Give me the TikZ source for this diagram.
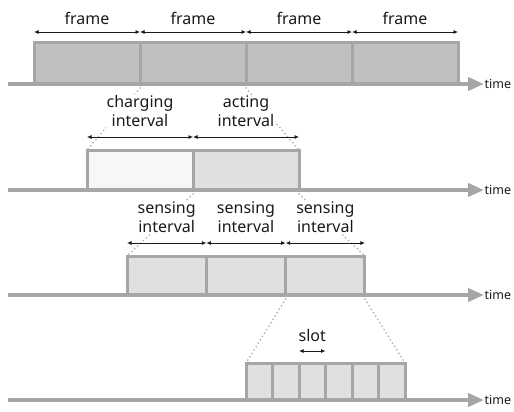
\documentclass[tikz,border=0pt]{standalone}
\usepackage{fontspec}
\setmainfont{Noto Sans}
\usetikzlibrary{arrows.meta}

\definecolor{linegray}{HTML}{A6A6A6}
\definecolor{dotgray}{HTML}{B4B4B4}
\definecolor{framefill}{HTML}{C0C0C0}
\definecolor{boxfill}{HTML}{E0E0E0}
\definecolor{palefill}{HTML}{F7F7F7}
\definecolor{ink}{HTML}{1A1A1A}

\tikzset{
  box/.style={draw=linegray, line width=3pt, fill=#1, inner sep=0pt, outer sep=0pt},
  box/.default=boxfill,
  axisline/.style={draw=linegray, line width=4pt, -{Triangle[length=16pt,width=13pt,fill=linegray]}},
  timelbl/.style={anchor=west, inner sep=0.5pt, font=\fontsize{12.5}{14}\selectfont, text=ink},
  dimline/.style={draw=ink, line width=0.8pt, {Latex[length=4.5pt,width=4pt]}-{Latex[length=4.5pt,width=4pt]}},
  lbl/.style={anchor=south, inner sep=1pt, fill=white, align=center, text=ink,
              font=\fontsize{16}{19}\selectfont},
  zoomline/.style={draw=dotgray, line width=2pt, line cap=round, dash pattern=on 0pt off 4pt},
}

\begin{document}
\begin{tikzpicture}[x=1pt, y=-1pt]
\useasboundingbox (0,0) rectangle (514,412);

% ---------- row 1: frames ----------
\foreach \i/\cx in {1/87, 2/193, 3/299, 4/405}
  \node[box=framefill, minimum width=106pt, minimum height=41pt] (f\i) at (\cx,63.5) {};
\coordinate (a1s) at (8,84);
\coordinate (a1e) at (484,84);
\draw[axisline] (a1s) -- (a1e);
\node[timelbl] (t1) at (a1e) {time};

% ---------- row 2: charging / acting ----------
\node[box=palefill, minimum width=106pt, minimum height=40pt] (c1) at (140,170) {};
\node[box=boxfill,  minimum width=106pt, minimum height=40pt] (c2) at (246,170) {};
\coordinate (a2s) at (8,190);
\coordinate (a2e) at (484,190);
\draw[axisline] (a2s) -- (a2e);
\node[timelbl] (t2) at (a2e) {time};

% ---------- row 3: sensing intervals ----------
\foreach \i/\cx in {1/166.67, 2/246, 3/325.33}
  \node[box, minimum width=79.33pt, minimum height=39pt] (g\i) at (\cx,275.5) {};
\coordinate (a3s) at (8,295);
\coordinate (a3e) at (484,295);
\draw[axisline] (a3s) -- (a3e);
\node[timelbl] (t3) at (a3e) {time};

% ---------- row 4: slots ----------
\foreach \i in {1,...,6}
  \node[box, minimum width=26.5pt, minimum height=37pt] (s\i) at ({246+13.25+26.5*(\i-1)},381.5) {};
\coordinate (a4s) at (8,400);
\coordinate (a4e) at (484,400);
\draw[axisline] (a4s) -- (a4e);
\node[timelbl] (t4) at (a4e) {time};

% ---------- dotted zoom lines ----------
\draw[zoomline] ([yshift=-4pt]f1.south east) -- (c1.north west);
\draw[zoomline] ([yshift=-4pt]f2.south east) -- (c2.north east);
\draw[zoomline] ([yshift=-4pt]c1.south east) -- (g1.north west);
\draw[zoomline] ([yshift=-4pt]c2.south east) -- (g3.north east);
\draw[zoomline] ([yshift=-4pt]g2.south east) -- (s1.north west);
\draw[zoomline] ([yshift=-4pt]g3.south east) -- (s6.north east);

% ---------- labels ----------
\foreach \i in {1,...,4}
  \node[lbl] (fl\i) at ([yshift=17pt]f\i.north) {frame};
\node[lbl] (cl1) at ([yshift=22pt]c1.north) {charging\\interval};
\node[lbl] (cl2) at ([yshift=22pt]c2.north) {acting\\interval};
\foreach \i in {1,2,3}
  \node[lbl] (gl\i) at ([yshift=22pt]g\i.north) {sensing\\interval};
\node[lbl] (sl) at ([yshift=20pt]s3.north) {slot};

% ---------- dimension arrows ----------
\foreach \i in {1,...,4}
  \draw[dimline] ([yshift=11pt]f\i.north west) -- ([yshift=11pt]f\i.north east);
\foreach \i in {1,2}
  \draw[dimline] ([yshift=13pt]c\i.north west) -- ([yshift=13pt]c\i.north east);
\foreach \i in {1,2,3}
  \draw[dimline] ([yshift=13pt]g\i.north west) -- ([yshift=13pt]g\i.north east);
\draw[dimline] ([yshift=12pt]s3.north west) -- ([yshift=12pt]s3.north east);

\end{tikzpicture}
\end{document}
